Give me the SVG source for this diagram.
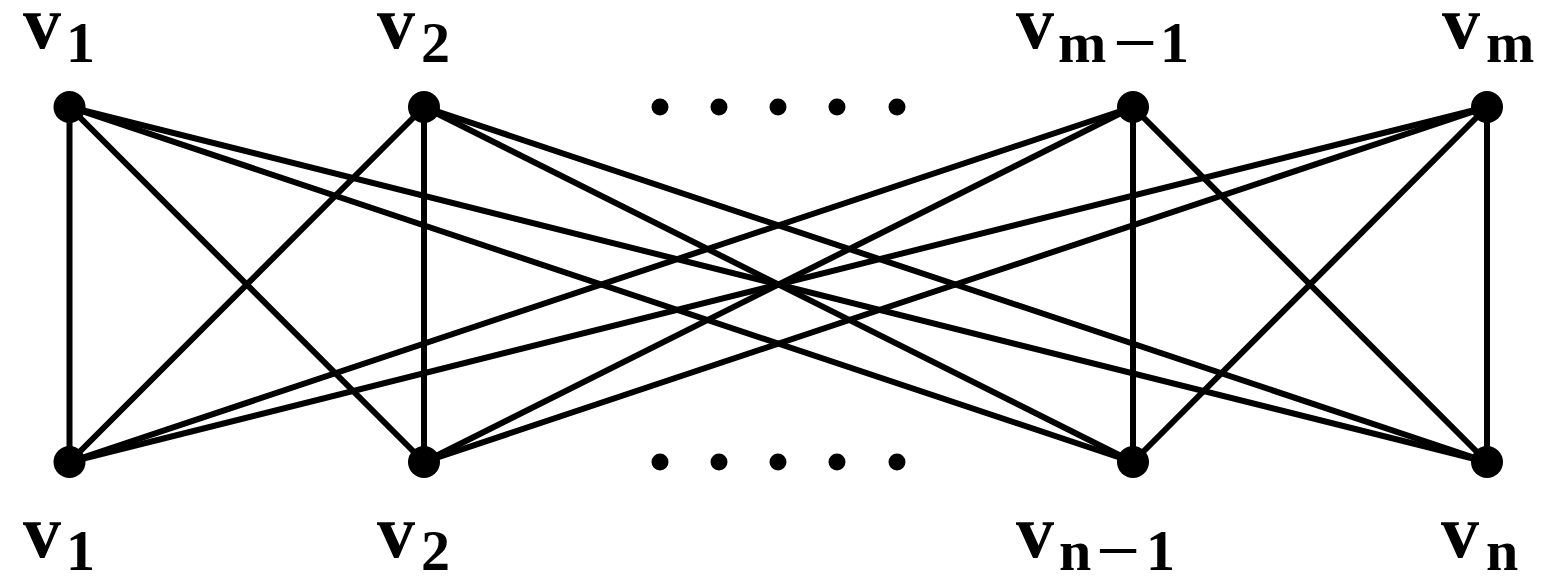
<svg xmlns="http://www.w3.org/2000/svg" width="1546" height="584" viewBox="0 0 1546 584">
<style>
.e{stroke:#000;stroke-width:6;stroke-linecap:round}
.n{fill:#000}
.v{font-family:"Liberation Serif",serif;font-weight:bold;font-size:76px;fill:#000}
.s{font-family:"Liberation Serif",serif;font-weight:bold;font-size:58px;fill:#000}
.mi{font-family:"Liberation Serif",serif;font-weight:bold;font-size:58px;fill:#000;text-anchor:middle}
</style>
<rect width="1546" height="584" fill="#fff"/>
<g id="connectors">
<line class="e" x1="69.5" y1="107" x2="69.5" y2="462"/>
<line class="e" x1="69.5" y1="107" x2="424" y2="462"/>
<line class="e" x1="69.5" y1="107" x2="1133" y2="462"/>
<line class="e" x1="69.5" y1="107" x2="1487" y2="462"/>
<line class="e" x1="424" y1="107" x2="69.5" y2="462"/>
<line class="e" x1="424" y1="107" x2="424" y2="462"/>
<line class="e" x1="424" y1="107" x2="1133" y2="462"/>
<line class="e" x1="424" y1="107" x2="1487" y2="462"/>
<line class="e" x1="1133" y1="107" x2="69.5" y2="462"/>
<line class="e" x1="1133" y1="107" x2="424" y2="462"/>
<line class="e" x1="1133" y1="107" x2="1133" y2="462"/>
<line class="e" x1="1133" y1="107" x2="1487" y2="462"/>
<line class="e" x1="1487" y1="107" x2="69.5" y2="462"/>
<line class="e" x1="1487" y1="107" x2="424" y2="462"/>
<line class="e" x1="1487" y1="107" x2="1133" y2="462"/>
<line class="e" x1="1487" y1="107" x2="1487" y2="462"/>
</g>
<g id="top-v1"><circle class="n" cx="69.5" cy="107" r="16"/><text class="v" x="23" y="48">v</text><text class="s" x="66" y="62">1</text></g>
<g id="top-v2"><circle class="n" cx="424" cy="107" r="16"/><text class="v" x="377" y="48">v</text><text class="s" x="421" y="62">2</text></g>
<g id="top-vm-1"><circle class="n" cx="1133" cy="107" r="16"/><text class="v" x="1016" y="48">v</text><text class="s" x="1058" y="62">m</text><text class="mi" transform="translate(1135,62) scale(1.35,1)">−</text><text class="s" x="1160" y="62">1</text></g>
<g id="top-vm"><circle class="n" cx="1487" cy="107" r="16"/><text class="v" x="1442" y="48">v</text><text class="s" x="1486" y="62">m</text></g>
<g id="bottom-v1"><circle class="n" cx="69.5" cy="462" r="16"/><text class="v" x="23" y="557">v</text><text class="s" x="66" y="570">1</text></g>
<g id="bottom-v2"><circle class="n" cx="424" cy="462" r="16"/><text class="v" x="377" y="557">v</text><text class="s" x="421" y="570">2</text></g>
<g id="bottom-vn-1"><circle class="n" cx="1133" cy="462" r="16"/><text class="v" x="1016" y="557">v</text><text class="s" x="1059" y="570">n</text><text class="mi" transform="translate(1118,570) scale(1.35,1)">−</text><text class="s" x="1146" y="570">1</text></g>
<g id="bottom-vn"><circle class="n" cx="1487" cy="462" r="16"/><text class="v" x="1441" y="557">v</text><text class="s" x="1486" y="570">n</text></g>
<g id="dots-top">
<circle class="n" cx="660" cy="107" r="8.5"/><circle class="n" cx="719" cy="107" r="8.5"/><circle class="n" cx="778" cy="107" r="8.5"/><circle class="n" cx="837" cy="107" r="8.5"/><circle class="n" cx="897" cy="107" r="8.5"/>
</g>
<g id="dots-bottom">
<circle class="n" cx="660" cy="462" r="8.5"/><circle class="n" cx="719" cy="462" r="8.5"/><circle class="n" cx="778" cy="462" r="8.5"/><circle class="n" cx="837" cy="462" r="8.5"/><circle class="n" cx="897" cy="462" r="8.5"/>
</g>
</svg>
